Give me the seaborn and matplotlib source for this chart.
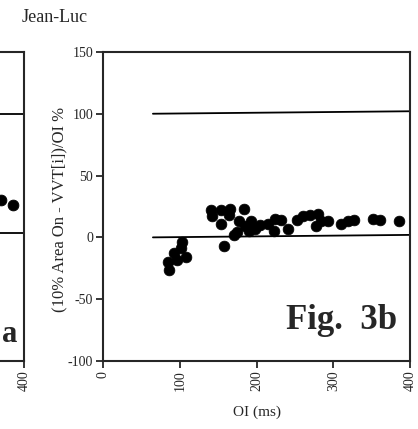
import matplotlib
matplotlib.use("Agg")
import matplotlib.pyplot as plt
import seaborn as sns
import pandas as pd

# OI (ms) vs (10% Area On - VVT[i])/OI %  -- panel b
oi_ms = [86, 84, 93, 101, 103, 97, 108, 157,
         140, 153, 166, 183, 142, 153, 164, 177, 185, 175, 170, 190, 198,
         193, 205, 215, 224, 232, 222, 241, 252, 261, 269, 280, 284, 277,
         293, 310, 319, 327, 351, 360, 385]
diff_pct = [-26, -20, -13, -9, -4, -18, -16, -7,
            22, 22, 23, 23, 17, 11, 18, 13, 9, 4, 2, 5, 7,
            13, 10, 11, 15, 14, 5, 7, 14, 17, 18, 19, 13, 9,
            13, 11, 13, 14, 15, 14, 13]
# reference lines (from -> to)
ref_x = [65, 400]
ref_upper = [100, 102]
ref_zero = [0, 2]

# panel a (only its right edge is visible)
a_oi = [370, 386]
a_diff = [30, 26]

df = pd.DataFrame({"OI": oi_ms, "diff": diff_pct})
dfa = pd.DataFrame({"OI": a_oi, "diff": a_diff})

sns.set_style("ticks")
plt.rcParams["font.family"] = ["Liberation Serif", "DejaVu Serif"]

fig = plt.figure(figsize=(4.18, 4.29), dpi=100)

# panel a, mostly off the left of the page
axa = fig.add_axes([-0.68, 0.1585, 0.737, 0.7205])
sns.scatterplot(data=dfa, x="OI", y="diff", ax=axa, color="black", s=60,
                edgecolor="black", clip_on=False)
axa.plot(ref_x, [100, 100], color="black", lw=1.3)
axa.plot(ref_x, [3.5, 3.5], color="black", lw=1.3)
axa.set_xlim(0, 400)
axa.set_ylim(-100, 150)
axa.set_xticks([400])
axa.set_xticklabels(["400"], rotation=90, fontsize=10)
axa.set_yticks([])
axa.set_xlabel("")
axa.set_ylabel("")
for sp in axa.spines.values():
    sp.set_linewidth(1.5)
axa.tick_params(axis="x", length=5, width=1.3, direction="out", pad=2)
# visible tail of the "Fig. 3a" label
fig.text(17 / 418, 1 - 334 / 429, "a", fontsize=22, fontweight="bold",
         ha="right", va="center")

# panel b
ax = fig.add_axes([0.2464, 0.1585, 0.735, 0.7205])
sns.scatterplot(data=df, x="OI", y="diff", ax=ax, color="black", s=60,
                edgecolor="black", linewidth=0.5)
ax.plot(ref_x, ref_upper, color="black", lw=1.3)
ax.plot(ref_x, ref_zero, color="black", lw=1.3)
ax.set_xlim(0, 400)
ax.set_ylim(-100, 150)
ax.set_xticks([0, 100, 200, 300, 400])
ax.set_xticklabels(["0", "100", "200", "300", "400"], rotation=90, fontsize=10)
ax.set_yticks([-100, -50, 0, 50, 100, 150])
ax.set_yticklabels(["-100", "-50", "0", "50", "100", "150"], fontsize=10)
ax.tick_params(axis="both", length=5, width=1.3, direction="out", pad=2)
for sp in ax.spines.values():
    sp.set_linewidth(1.5)
ax.set_xlabel("OI (ms)", fontsize=11)
ax.xaxis.set_label_coords(0.5, -0.145)
ax.set_ylabel("(10% Area On - VVT[i])/OI %", fontsize=12)
ax.yaxis.set_label_coords(-0.115, 0.49)
ax.text(383, -67, "Fig.  3b", fontsize=25, fontweight="bold", ha="right",
        va="center")

fig.text(22 / 418, 1 - 17 / 429, "Jean-Luc", fontsize=13, ha="left",
         va="center")

fig.savefig("out.png", dpi=100)
